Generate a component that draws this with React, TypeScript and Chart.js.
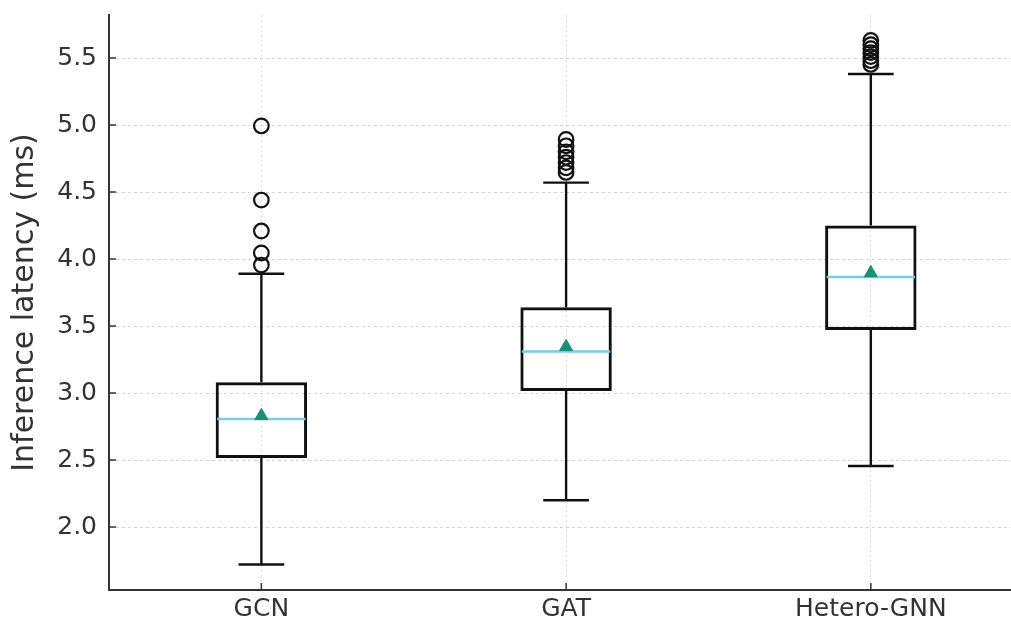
import React, { useEffect, useRef } from "react";
import { Chart, registerables } from "chart.js";

Chart.register(...registerables);

const categories = ["GCN", "GAT", "Hetero-GNN"];
const whiskerLow = [1.72, 2.2, 2.455];
const q1 = [2.515, 3.015, 3.47];
const medians = [2.806, 3.31, 3.866];
const q3 = [3.08, 3.64, 4.25];
const whiskerHigh = [3.89, 4.57, 5.381];
const means = [2.83, 3.345, 3.896];
const outliersGCN = [3.955, 4.045, 4.209, 4.44, 4.993];
const outliersGAT = [4.646, 4.68, 4.72, 4.76, 4.8, 4.845, 4.892];
const outliersHetero = [5.452, 5.48, 5.51, 5.54, 5.57, 5.6, 5.631];
const yTicks = [2.0, 2.5, 3.0, 3.5, 4.0, 4.5, 5.0, 5.5];

const TEXT = "#333333";
const LINE = "#111111";

const boxExtras = {
  id: "boxExtras",
  afterDatasetDraw(chart: any, args: any) {
    if (args.index !== 0) return;
    const ctx = chart.ctx;
    const xs = chart.scales.x;
    const ys = chart.scales.y;
    const meta = chart.getDatasetMeta(0);
    ctx.save();
    categories.forEach((_, i) => {
      const el: any = meta.data[i];
      const cx = xs.getPixelForValue(i);
      const half = el.width / 2;
      const capHalf = half / 2;
      const pLow = ys.getPixelForValue(whiskerLow[i]);
      const pQ1 = ys.getPixelForValue(q1[i]);
      const pQ3 = ys.getPixelForValue(q3[i]);
      const pHigh = ys.getPixelForValue(whiskerHigh[i]);
      ctx.strokeStyle = LINE;
      ctx.lineWidth = 2.4;
      ctx.beginPath();
      ctx.moveTo(cx, pQ1);
      ctx.lineTo(cx, pLow);
      ctx.moveTo(cx, pQ3);
      ctx.lineTo(cx, pHigh);
      ctx.moveTo(cx - capHalf, pLow);
      ctx.lineTo(cx + capHalf, pLow);
      ctx.moveTo(cx - capHalf, pHigh);
      ctx.lineTo(cx + capHalf, pHigh);
      ctx.stroke();
      const pMed = ys.getPixelForValue(medians[i]);
      ctx.strokeStyle = "#7ccbe8";
      ctx.lineWidth = 2.5;
      ctx.beginPath();
      ctx.moveTo(cx - half + 1.5, pMed);
      ctx.lineTo(cx + half - 1.5, pMed);
      ctx.stroke();
    });
    ctx.restore();
  },
  afterDraw(chart: any) {
    const ctx = chart.ctx;
    const xs = chart.scales.x;
    const ys = chart.scales.y;
    const area = chart.chartArea;
    ctx.save();
    ctx.strokeStyle = TEXT;
    ctx.lineWidth = 1.5;
    ctx.beginPath();
    yTicks.forEach((v) => {
      const py = ys.getPixelForValue(v);
      ctx.moveTo(area.left, py);
      ctx.lineTo(area.left + 7, py);
    });
    categories.forEach((_, i) => {
      const px = xs.getPixelForValue(i);
      ctx.moveTo(px, area.bottom);
      ctx.lineTo(px, area.bottom - 7);
    });
    ctx.stroke();
    ctx.restore();
  },
};

export default function App() {
  const ref = useRef<HTMLCanvasElement | null>(null);

  useEffect(() => {
    document.body.style.margin = "0";
    if (!ref.current) return;
    Chart.defaults.font.family = "'DejaVu Sans', sans-serif";
    const outlierData = [
      ...outliersGCN.map((y) => ({ x: 0, y })),
      ...outliersGAT.map((y) => ({ x: 1, y })),
      ...outliersHetero.map((y) => ({ x: 2, y })),
    ];
    const chart = new Chart(ref.current, {
      type: "bar",
      data: {
        datasets: [
          {
            type: "bar",
            data: categories.map((_, i) => ({ x: i, y: [q1[i], q3[i]] })) as any,
            backgroundColor: "rgba(255,255,255,0)",
            borderColor: LINE,
            borderWidth: 3,
            borderSkipped: false,
            barPercentage: 0.3,
            categoryPercentage: 1,
            order: 3,
          } as any,
          {
            type: "scatter",
            data: outlierData,
            pointStyle: "circle",
            pointRadius: 7.3,
            pointBorderWidth: 2.2,
            pointBorderColor: LINE,
            pointBackgroundColor: "rgba(255,255,255,0)",
            order: 2,
          } as any,
          {
            type: "scatter",
            data: means.map((y, i) => ({ x: i, y })),
            pointStyle: "triangle",
            pointRadius: 7.5,
            pointBorderWidth: 1,
            pointBorderColor: "#1a8f78",
            pointBackgroundColor: "#1a8f78",
            order: 1,
          } as any,
        ],
      },
      options: {
        animation: false,
        responsive: true,
        maintainAspectRatio: false,
        layout: { autoPadding: false, padding: { top: 15, right: 0, left: 0, bottom: 0 } },
        plugins: { legend: { display: false }, tooltip: { enabled: false } },
        scales: {
          x: {
            type: "linear",
            offset: false,
            min: -0.5,
            max: 2.46,
            afterBuildTicks: (s: any) => {
              s.ticks = categories.map((_, i) => ({ value: i }));
            },
            afterFit: (s: any) => {
              s.height = 35;
              s.paddingLeft = 0;
              s.paddingRight = 0;
            },
            ticks: {
              callback: (v: any) => categories[v as number],
              color: TEXT,
              font: { size: 25 },
              padding: 4,
              maxRotation: 0,
            },
            grid: { offset: false, color: "#dcdcdc", lineWidth: 1, drawTicks: false },
            border: { display: true, color: "#333333", width: 2, dash: [2, 3] },
          },
          y: {
            type: "linear",
            min: 1.53,
            max: 5.821,
            afterBuildTicks: (s: any) => {
              s.ticks = yTicks.map((v) => ({ value: v }));
            },
            afterFit: (s: any) => {
              s.width = 109;
              s.paddingTop = 0;
              s.paddingBottom = 0;
            },
            ticks: {
              callback: (v: any) => Number(v).toFixed(1),
              color: TEXT,
              font: { size: 25 },
              padding: 12,
            },
            grid: { color: "#d4d4d4", lineWidth: 1, drawTicks: false },
            border: { display: true, color: "#333333", width: 2, dash: [3, 3] },
            title: {
              display: true,
              text: "Inference latency (ms)",
              color: TEXT,
              font: { size: 30 },
              padding: { top: 7, bottom: 0 },
            },
          },
        },
      },
      plugins: [boxExtras],
    });
    return () => chart.destroy();
  }, []);

  return (
    <div style={{ width: 1011, height: 625, position: "relative" }}>
      <canvas ref={ref} />
    </div>
  );
}
